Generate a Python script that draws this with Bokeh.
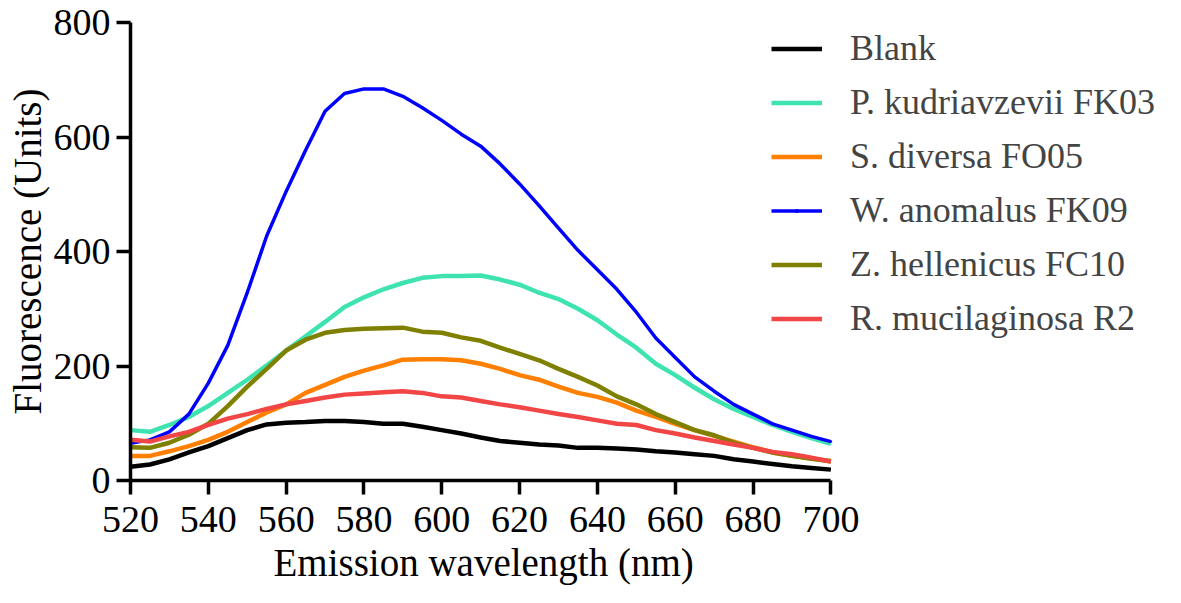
from bokeh.plotting import figure
from bokeh.models import Range1d, FixedTicker, Legend, LegendItem, Title
from bokeh.embed import file_html
from bokeh.resources import INLINE

# Emission wavelength (nm)
wavelength = list(range(520, 701, 5))

blank = [24, 28, 37, 49, 60, 74, 88, 98, 101, 102, 104, 104, 102, 99, 99, 94, 88, 82, 75,
         69, 66, 63, 61, 57, 57, 56, 54, 51, 49, 46, 43, 37, 33, 29, 25, 22, 19]
p_kudriavzevii = [88, 85, 97, 111, 130, 153, 176, 201, 227, 252, 277, 303, 320, 334, 345, 354,
                  357, 357, 358, 351, 342, 328, 317, 300, 280, 255, 232, 204, 184, 162, 142,
                  125, 111, 97, 85, 74, 64]
s_diversa = [43, 43, 51, 60, 71, 85, 102, 119, 133, 153, 167, 181, 192, 201, 211, 212, 212, 210,
             204, 195, 184, 176, 164, 153, 146, 136, 122, 111, 99, 88, 78, 68, 58, 49, 43, 39, 33]
w_anomalus = [65, 71, 85, 116, 170, 236, 328, 427, 505, 577, 645, 676, 684, 684, 671, 651, 629,
              605, 584, 553, 518, 480, 441, 402, 368, 334, 294, 249, 215, 181, 156, 133, 116, 99,
              88, 77, 68]
z_hellenicus = [58, 57, 66, 80, 99, 130, 164, 195, 227, 246, 258, 263, 265, 266, 267, 260, 258,
                250, 244, 232, 221, 210, 195, 181, 166, 147, 133, 116, 102, 88, 79, 66, 57, 49,
                43, 38, 34]
r_mucilaginosa = [71, 68, 77, 85, 97, 108, 116, 125, 133, 139, 145, 150, 152, 154, 156, 153, 147,
                  145, 139, 133, 128, 122, 116, 111, 105, 99, 97, 88, 82, 75, 69, 63, 57, 50, 46,
                  40, 33]

labels = ["Blank", "P. kudriavzevii FK03", "S. diversa FO05", "W. anomalus FK09",
          "Z. hellenicus FC10", "R. mucilaginosa R2"]
colors = ["#000000", "#3FE3B0", "#FF8000", "#0000FF", "#808000", "#F24646"]
x_ticks = [520, 540, 560, 580, 600, 620, 640, 660, 680, 700]
y_ticks = [0, 200, 400, 600, 800]
x_title = "Emission wavelength (nm)"
y_title = "Fluorescence (Units)"

FONT = "Liberation Serif"

# the frame is widened to the right (room for the legend); the x axis is bounded to 520-700
p = figure(width=1165, height=587, output_backend="svg", toolbar_location=None,
           x_range=Range1d(520, 786), y_range=Range1d(0, 800),
           min_border_left=130, min_border_right=0, min_border_top=22, min_border_bottom=107)
p.outline_line_color = None
p.xgrid.visible = False
p.ygrid.visible = False
p.background_fill_color = "white"
p.border_fill_color = "white"

series = [blank, p_kudriavzevii, s_diversa, w_anomalus, z_hellenicus, r_mucilaginosa]
items = []
for name, ys, col in zip(labels, series, colors):
    if name.startswith("W."):
        r = p.line(wavelength, ys, line_color=col, line_width=3.5)
        s = p.scatter(wavelength, ys, marker="dot", size=10, line_color=col, fill_color=col)
        items.append(LegendItem(label=name, renderers=[r, s]))
    else:
        r = p.line(wavelength, ys, line_color=col, line_width=4.5)
        items.append(LegendItem(label=name, renderers=[r]))

for ax in (p.xaxis[0], p.yaxis[0]):
    ax.axis_line_width = 3.5
    ax.major_tick_line_width = 3.5
    ax.major_tick_in = 0
    ax.major_tick_out = 14
    ax.minor_tick_line_color = None
    ax.major_label_text_font = FONT
    ax.major_label_text_font_size = "38px"
    ax.major_label_text_color = "black"
    ax.axis_label_text_font = FONT
    ax.axis_label_text_font_size = "39px"
    ax.axis_label_text_font_style = "normal"
    ax.axis_label_text_color = "black"

p.xaxis.bounds = (520, 700)
p.xaxis.ticker = FixedTicker(ticks=x_ticks)
p.yaxis.ticker = FixedTicker(ticks=y_ticks)
p.yaxis.axis_label = y_title
p.xaxis.major_label_standoff = 12
p.yaxis.major_label_standoff = 6
p.yaxis.axis_label_standoff = 2

# x-axis title, centred under the 520-700 span of the axis
p.add_layout(Title(text=x_title, align="left", offset=143, standoff=8,
                   text_font=FONT, text_font_size="39px", text_font_style="normal",
                   text_color="black"), "below")

legend = Legend(items=items, location=(641, 141), padding=0, margin=0, spacing=12,
                glyph_width=51, glyph_height=41, label_height=41, label_standoff=28,
                label_text_font=FONT, label_text_font_size="36px",
                border_line_alpha=0, background_fill_alpha=0)
p.add_layout(legend, "center")

open("out.html", "w").write(file_html(p, INLINE))
